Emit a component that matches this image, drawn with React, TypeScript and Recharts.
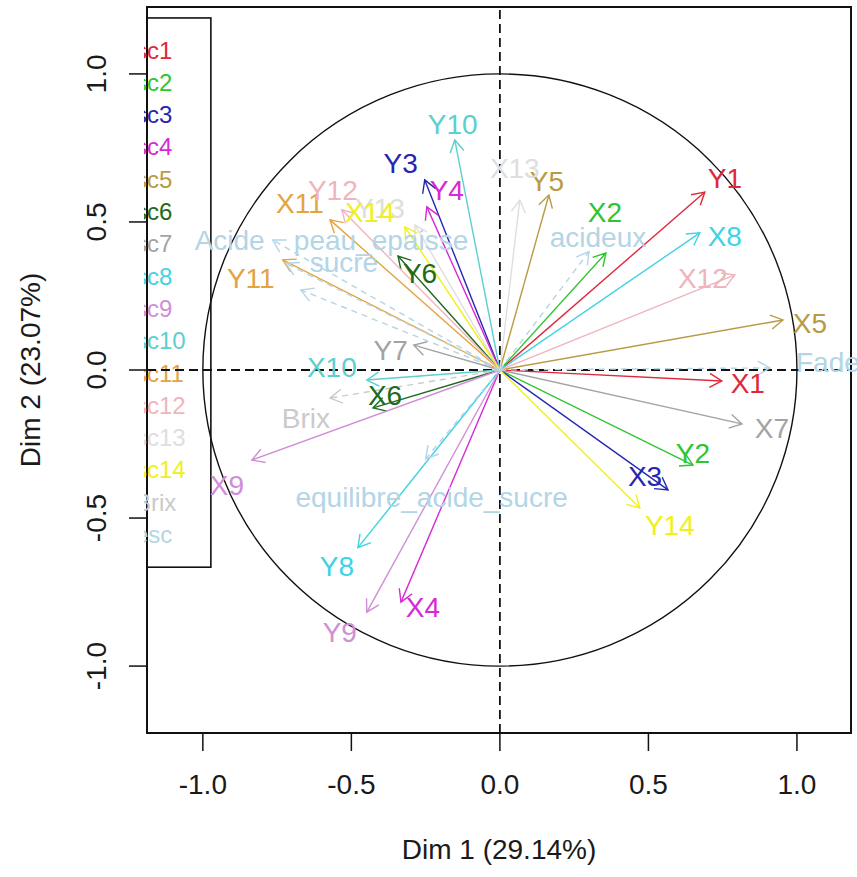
import React from "react";
import {
  ScatterChart,
  Scatter,
  XAxis,
  YAxis,
  ReferenceLine,
  ReferenceArea,
  Label,
} from "recharts";

// groups (legend entries) and their colours
const groups = [
  "sc1", "sc2", "sc3", "sc4", "sc5", "sc6", "sc7", "sc8", "sc9", "sc10",
  "sc11", "sc12", "sc13", "sc14", "Brix", "esc",
];
const groupColors = [
  "#e0283c", "#2fc52f", "#2626b0", "#d62ad6", "#b99a45", "#206a20",
  "#a3a3a3", "#3fd3e3", "#cf8fd6", "#5ccfcf", "#e3a43f", "#f0b4bd",
  "#dedede", "#f0f020", "#cacaca", "#b3d5e6",
];

// variables: correlation with Dim 1 / Dim 2, and group index
const varNames = [
  "X1", "Y1", "X2", "Y2", "X3", "Y3", "X4", "Y4", "X5", "Y5", "X6", "Y6",
  "X7", "Y7", "X8", "Y8", "X9", "Y9", "X10", "Y10", "X11", "Y11", "X12",
  "Y12", "X13", "Y13", "X14", "Y14", "Brix", "Acide", "peau_epaisse",
  "sucre", "acideux", "Fade", "equilibre_acide_sucre",
];
const dim1 = [
  0.747, 0.69, 0.357, 0.65, 0.566, -0.253, -0.333, -0.246, 0.953, 0.165,
  -0.427, -0.343, 0.815, -0.29, 0.673, -0.478, -0.835, -0.448, -0.448,
  -0.152, -0.572, -0.731, 0.791, -0.532, 0.067, -0.286, -0.32, 0.471,
  -0.572, -0.765, -0.72, -0.67, 0.3, 0.909, -0.25,
];
const dim2 = [
  -0.037, 0.601, 0.395, -0.321, -0.405, 0.642, -0.784, 0.551, 0.169, 0.591,
  -0.128, 0.385, -0.182, 0.084, 0.463, -0.6, -0.304, -0.818, -0.034, 0.777,
  0.507, 0.372, 0.321, 0.541, 0.574, 0.49, 0.483, -0.466, -0.095, 0.439,
  0.36, 0.27, 0.4, 0.007, -0.3,
];
const varGroup = [
  0, 0, 1, 1, 2, 2, 3, 3, 4, 4, 5, 5, 6, 6, 7, 7, 8, 8, 9, 9, 10, 10, 11,
  11, 12, 12, 13, 13, 14, 15, 15, 15, 15, 15, 15,
];
const axisTicks = [-1, -0.5, 0, 0.5, 1];

// label nudges in px from the arrow tip (like autoLab placement)
const nudge: Record<string, [number, number]> = {
  X1: [26, 2], Y1: [20, -14], X2: [-1, -41], Y2: [0, -12], X3: [-23, -14],
  Y3: [-24, -17], X4: [22, 5], Y4: [20, -17], X5: [27, 3], Y5: [-2, -14],
  X6: [12, -13], Y6: [22, 17], X7: [30, 4], Y7: [-23, 5], X8: [25, 3],
  Y8: [-21, 18], X9: [-25, 25], Y9: [-27, 20], X10: [-35, -13],
  Y10: [-2, -16], X11: [-30, -17], Y11: [-32, 18], X12: [-32, 3],
  Y12: [-9, -20], X13: [-5, -32], Y13: [-35, -17], X14: [-35, -15],
  Y14: [30, 17], Brix: [-24, 20], Acide: [-43, 0], peau_epaisse: [95, -23],
  sucre: [43, -28], acideux: [9, -15], Fade: [58, -6],
  equilibre_acide_sucre: [6, 38],
};

const FONT = "'Liberation Sans', Arial, sans-serif";
const X_DOMAIN: [number, number] = [-1.188, 1.182];
const Y_DOMAIN: [number, number] = [-1.226, 1.226];

const fmt = (v: number) => v.toFixed(1);

function arrowShape(i: number) {
  const color = groupColors[varGroup[i]];
  const dashed = varGroup[i] >= 14;
  // eslint-disable-next-line @typescript-eslint/no-explicit-any
  return (p: any) => {
    const { x1, y1, x2, y2 } = p;
    const ang = Math.atan2(y2 - y1, x2 - x1);
    const len = 14;
    const a = Math.PI / 6;
    const hx1 = x2 - len * Math.cos(ang - a);
    const hy1 = y2 - len * Math.sin(ang - a);
    const hx2 = x2 - len * Math.cos(ang + a);
    const hy2 = y2 - len * Math.sin(ang + a);
    return (
      <g>
        <line
          x1={x1}
          y1={y1}
          x2={x2}
          y2={y2}
          stroke={color}
          strokeWidth={1.4}
          strokeDasharray={dashed ? "6 5" : undefined}
        />
        <polyline
          points={`${hx1},${hy1} ${x2},${y2} ${hx2},${hy2}`}
          fill="none"
          stroke={color}
          strokeWidth={1.4}
        />
      </g>
    );
  };
}

function labelShape(i: number) {
  const color = groupColors[varGroup[i]];
  const [dx, dy] = nudge[varNames[i]] || [0, -14];
  // eslint-disable-next-line @typescript-eslint/no-explicit-any
  return (p: any) => (
    <text
      x={p.x2 + dx}
      y={p.y2 + dy}
      dy="0.36em"
      textAnchor="middle"
      fill={color}
      fontSize={28}
      fontFamily={FONT}
    >
      {varNames[i]}
    </text>
  );
}

// eslint-disable-next-line @typescript-eslint/no-explicit-any
function XTick(p: any) {
  return (
    <text
      x={p.x}
      y={784}
      dy="0.36em"
      textAnchor="middle"
      fontSize={28}
      fontFamily={FONT}
      fill="#1a1a1a"
    >
      {fmt(p.payload.value)}
    </text>
  );
}

// eslint-disable-next-line @typescript-eslint/no-explicit-any
function YTick(p: any) {
  return (
    <text
      transform={`translate(96, ${p.y}) rotate(-90)`}
      dy="0.36em"
      textAnchor="middle"
      fontSize={28}
      fontFamily={FONT}
      fill="#1a1a1a"
    >
      {fmt(p.payload.value)}
    </text>
  );
}

// eslint-disable-next-line @typescript-eslint/no-explicit-any
function LegendBox(p: any) {
  const { x, y, width, height } = p;
  return (
    <g>
      <defs>
        <clipPath id="legend-clip">
          <rect x={144} y={0} width={800} height={877} />
        </clipPath>
      </defs>
      <rect
        x={x}
        y={y}
        width={width}
        height={height}
        fill="none"
        stroke="#111"
        strokeWidth={1.6}
      />
      <g clipPath="url(#legend-clip)">
        {groups.map((g, k) => (
          <text
            key={g}
            x={x - 12}
            y={y + 32 + k * 32.3}
            dy="0.36em"
            fontSize={24}
            fontFamily={FONT}
            fill={groupColors[k]}
          >
            {g}
          </text>
        ))}
      </g>
    </g>
  );
}

// eslint-disable-next-line @typescript-eslint/no-explicit-any
function CircleShape(p: any) {
  const { x1, y1, x2, y2 } = p;
  return (
    <ellipse
      cx={(x1 + x2) / 2}
      cy={(y1 + y2) / 2}
      rx={Math.abs(x2 - x1) / 2}
      ry={Math.abs(y2 - y1) / 2}
      fill="none"
      stroke="#111"
      strokeWidth={1.4}
    />
  );
}

export default function App() {
  const idx = varNames.map((_, i) => i);
  return (
    <div style={{ position: "absolute", left: 0, top: 0, background: "#fff" }}>
      <ScatterChart
        width={857}
        height={877}
        margin={{ top: 7, right: 6, left: 47, bottom: 84 }}
      >
        <XAxis
          type="number"
          dataKey="x"
          domain={X_DOMAIN}
          ticks={axisTicks}
          allowDataOverflow
          height={60}
          axisLine={false}
          tickSize={18}
          tickMargin={0}
          tickLine={{ stroke: "#111", strokeWidth: 1.5 }}
          tick={<XTick />}
        >
          <Label
            content={() => (
              <text
                x={499}
                y={849}
                dy="0.36em"
                textAnchor="middle"
                fontSize={28}
                fontFamily={FONT}
                fill="#1a1a1a"
              >
                Dim 1 (29.14%)
              </text>
            )}
          />
        </XAxis>
        <YAxis
          type="number"
          dataKey="y"
          domain={Y_DOMAIN}
          ticks={axisTicks}
          allowDataOverflow
          width={100}
          axisLine={false}
          tickSize={18}
          tickMargin={0}
          tickLine={{ stroke: "#111", strokeWidth: 1.5 }}
          tick={<YTick />}
        >
          <Label
            content={() => (
              <text
                transform="translate(30, 370) rotate(-90)"
                dy="0.36em"
                textAnchor="middle"
                fontSize={28}
                fontFamily={FONT}
                fill="#1a1a1a"
              >
                Dim 2 (23.07%)
              </text>
            )}
          />
        </YAxis>

        {/* plot frame */}
        <ReferenceArea
          x1={X_DOMAIN[0]}
          x2={X_DOMAIN[1]}
          y1={Y_DOMAIN[0]}
          y2={Y_DOMAIN[1]}
          ifOverflow="visible"
          fill="none"
          fillOpacity={0}
          stroke="#111"
          strokeWidth={2}
        />

        <ReferenceLine
          x={0}
          stroke="#111"
          strokeWidth={1.8}
          strokeDasharray="9 5"
        />
        <ReferenceLine
          y={0}
          stroke="#111"
          strokeWidth={1.8}
          strokeDasharray="9 5"
        />

        {/* unit circle */}
        <ReferenceLine
          segment={[
            { x: -1, y: -1 },
            { x: 1, y: 1 },
          ]}
          ifOverflow="visible"
          shape={CircleShape}
        />

        {/* legend */}
        <ReferenceArea
          x1={X_DOMAIN[0]}
          x2={-0.973}
          y1={-0.666}
          y2={1.189}
          ifOverflow="visible"
          shape={LegendBox}
        />

        {idx.map((i) => (
          <ReferenceLine
            key={"a" + i}
            segment={[
              { x: 0, y: 0 },
              { x: dim1[i], y: dim2[i] },
            ]}
            ifOverflow="visible"
            shape={arrowShape(i)}
          />
        ))}
        {idx.map((i) => (
          <ReferenceLine
            key={"l" + i}
            segment={[
              { x: 0, y: 0 },
              { x: dim1[i], y: dim2[i] },
            ]}
            ifOverflow="visible"
            shape={labelShape(i)}
          />
        ))}

        <Scatter
          data={[{ x: 0, y: 0 }]}
          isAnimationActive={false}
          shape={() => <g />}
        />
      </ScatterChart>
    </div>
  );
}
